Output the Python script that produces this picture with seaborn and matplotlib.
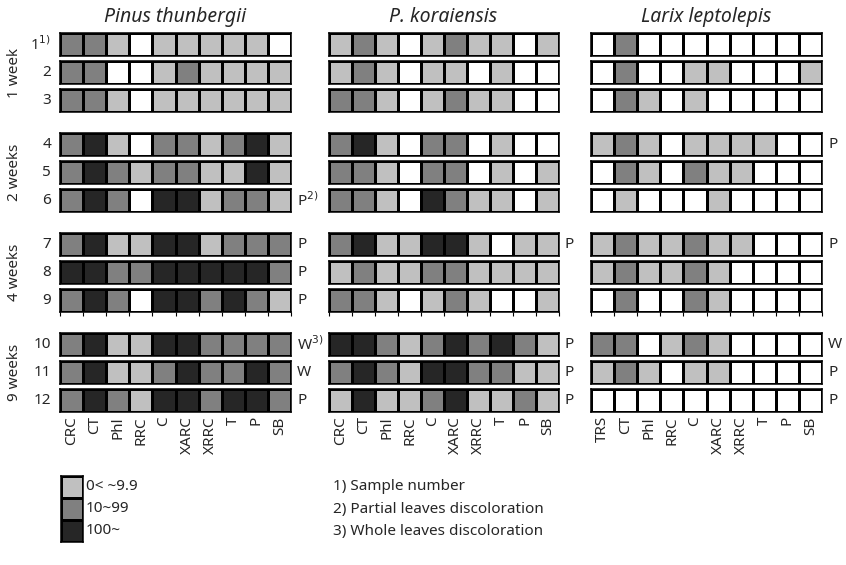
import numpy as np
import matplotlib
matplotlib.use("Agg")
import matplotlib.pyplot as plt
import seaborn as sns
from matplotlib.colors import ListedColormap

sns.set_style("white")
plt.rcParams['font.family'] = ['Noto Sans', 'DejaVu Sans']

titles = ["Pinus thunbergii", "P. koraiensis", "Larix leptolepis"]
cols_pine = ["CRC", "CT", "Phl", "RRC", "C", "XARC", "XRRC", "T", "P", "SB"]
cols_larix = ["TRS", "CT", "Phl", "RRC", "C", "XARC", "XRRC", "T", "P", "SB"]
row_labels = ["1$^{1)}$", "2", "3", "4", "5", "6", "7", "8", "9", "10", "11", "12"]
group_labels = ["1 week", "2 weeks", "4 weeks", "9 weeks"]
legend_labels = ["0< ~9.9", "10~99", "100~"]
footnotes = ["1) Sample number", "2) Partial leaves discoloration", "3) Whole leaves discoloration"]

pinus = [
    [2, 2, 1, 0, 1, 1, 1, 1, 1, 0],
    [2, 2, 0, 0, 1, 2, 1, 1, 1, 1],
    [2, 2, 1, 0, 1, 1, 1, 1, 1, 1],
    [2, 3, 1, 0, 2, 2, 1, 2, 3, 1],
    [2, 3, 2, 1, 2, 2, 1, 1, 3, 1],
    [2, 3, 2, 0, 3, 3, 1, 2, 2, 1],
    [2, 3, 1, 1, 3, 3, 1, 2, 2, 2],
    [3, 3, 2, 2, 3, 3, 3, 3, 3, 2],
    [2, 3, 2, 0, 3, 3, 2, 3, 2, 1],
    [2, 3, 1, 1, 3, 3, 2, 2, 2, 2],
    [2, 3, 1, 1, 2, 3, 2, 2, 3, 2],
    [2, 3, 2, 1, 3, 3, 2, 3, 3, 2],
]
koraiensis = [
    [1, 2, 1, 0, 1, 2, 1, 1, 0, 1],
    [1, 2, 1, 0, 1, 1, 0, 1, 0, 0],
    [2, 2, 1, 0, 1, 2, 1, 1, 0, 0],
    [2, 3, 1, 0, 2, 2, 0, 1, 0, 0],
    [2, 2, 1, 0, 2, 2, 0, 1, 0, 1],
    [2, 2, 1, 0, 3, 2, 1, 1, 0, 1],
    [2, 3, 1, 1, 3, 3, 1, 0, 1, 1],
    [1, 2, 1, 1, 2, 2, 1, 1, 1, 1],
    [2, 2, 1, 0, 1, 2, 1, 0, 0, 1],
    [3, 3, 2, 1, 2, 3, 2, 3, 2, 1],
    [2, 3, 2, 1, 3, 3, 2, 2, 1, 1],
    [1, 3, 1, 1, 2, 3, 1, 1, 2, 1],
]
larix = [
    [0, 2, 0, 0, 0, 0, 0, 0, 0, 0],
    [0, 2, 0, 0, 1, 1, 0, 0, 0, 1],
    [0, 2, 1, 0, 1, 0, 0, 0, 0, 0],
    [1, 2, 1, 0, 1, 1, 1, 1, 0, 0],
    [0, 2, 1, 0, 2, 1, 1, 0, 0, 0],
    [0, 1, 0, 0, 0, 1, 0, 0, 0, 0],
    [1, 2, 1, 1, 2, 1, 1, 0, 0, 0],
    [1, 2, 1, 1, 2, 1, 0, 0, 0, 0],
    [0, 2, 0, 0, 2, 1, 0, 0, 0, 0],
    [2, 2, 0, 1, 2, 1, 0, 0, 0, 0],
    [1, 2, 1, 0, 1, 1, 0, 0, 0, 0],
    [0, 0, 0, 0, 0, 0, 0, 0, 0, 0],
]
notes_pinus = ["", "", "", "", "", "P$^{2)}$", "P", "P", "P", "W$^{3)}$", "W", "P"]
notes_kor = ["", "", "", "", "", "", "P", "", "", "P", "P", "P"]
notes_larix = ["", "", "", "P", "", "", "P", "", "", "W", "P", "P"]

panels = [pinus, koraiensis, larix]
panel_cols = [cols_pine, cols_pine, cols_larix]
panel_notes = [notes_pinus, notes_kor, notes_larix]

colors = ["#ffffff", "#c0c0c0", "#808080", "#262626"]
cmap = ListedColormap(colors)

W, H = 846, 565
fig = plt.figure(figsize=(W / 100, H / 100), dpi=100)

def fax(x0, y0, w, h):
    return fig.add_axes([x0 / W, 1 - (y0 + h) / H, w / W, h / H])

panel_x = [(60, 231), (329, 230), (591, 231)]
title_x = [175, 443, 706]
note_x = [297, 564, 828]
cell_h = 23

def row_top(i):
    return 33 + 28 * i + 16 * (i // 3)

for p, data in enumerate(panels):
    x0, pw = panel_x[p]
    arr = np.array(data)
    for i in range(12):
        ax = fax(x0, row_top(i), pw, cell_h)
        sns.heatmap(arr[i:i + 1], ax=ax, cmap=cmap, vmin=-0.5, vmax=3.5,
                    cbar=False, linewidths=0.75, linecolor="black",
                    xticklabels=False, yticklabels=False)
        for s in ax.spines.values():
            s.set_visible(True)
            s.set_color("black")
            s.set_linewidth(1.1)
        if i == 8:
            ax.set_xticks(np.arange(11))
            ax.set_xticklabels([])
            ax.tick_params(axis="x", length=3, width=0.8, color="black", bottom=True)
        if i == 11:
            ax.set_xticks(np.arange(10) + 0.5)
            ax.set_xticklabels(panel_cols[p], rotation=90, fontsize=11)
            ax.tick_params(axis="x", length=0, pad=3)
        if panel_notes[p][i]:
            fig.text(note_x[p] / W, 1 - (row_top(i) + cell_h / 2) / H,
                     panel_notes[p][i], fontsize=11, va="center", ha="left")
    fig.text(title_x[p] / W, 1 - 17 / H, titles[p], fontsize=14,
             style="italic", ha="center", va="center")

for i, lab in enumerate(row_labels):
    fig.text(51 / W, 1 - (row_top(i) + cell_h / 2) / H, lab, fontsize=11,
             ha="right", va="center")

for g, lab in enumerate(group_labels):
    yc = (row_top(3 * g) + row_top(3 * g + 2) + cell_h) / 2
    fig.text(15 / W, 1 - yc / H, lab, fontsize=11, rotation=90,
             ha="center", va="center")

# legend
lax = fax(61, 476, 22, 66)
sns.heatmap(np.array([[1], [2], [3]]), ax=lax, cmap=cmap, vmin=-0.5, vmax=3.5,
            cbar=False, linewidths=0.75, linecolor="black",
            xticklabels=False, yticklabels=False)
for s in lax.spines.values():
    s.set_visible(True)
    s.set_color("black")
    s.set_linewidth(1.1)
for k, lab in enumerate(legend_labels):
    fig.text(86 / W, 1 - (487 + 22 * k) / H, lab, fontsize=11, ha="left", va="center")
for k, lab in enumerate(footnotes):
    fig.text(333 / W, 1 - (487 + 22 * k) / H, lab, fontsize=11, ha="left", va="center")

fig.savefig("out.png", dpi=100, facecolor="white")
